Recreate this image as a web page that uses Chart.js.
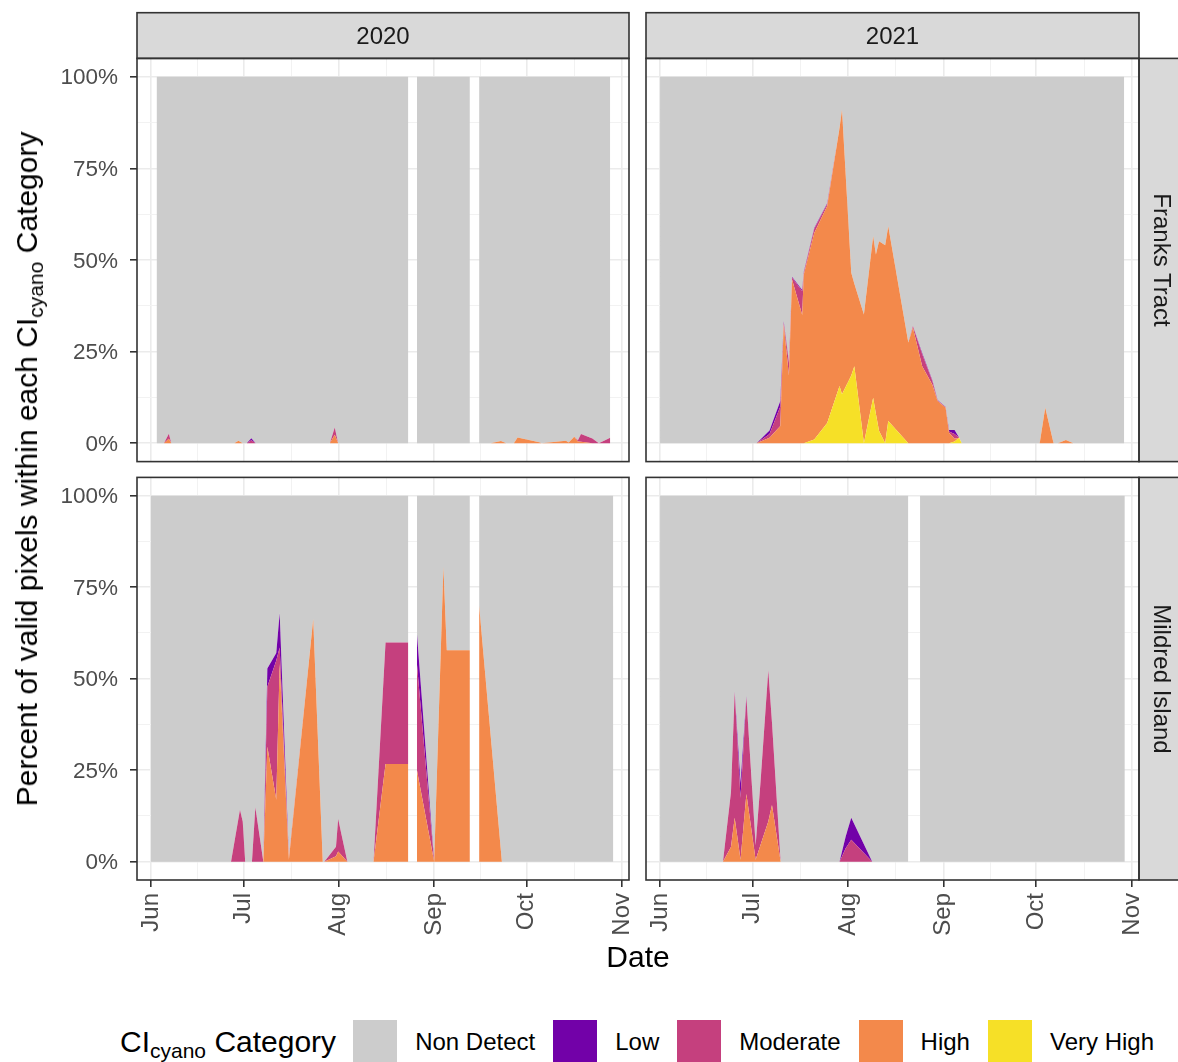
<!DOCTYPE html>
<html>
<head>
<meta charset="utf-8">
<title>CIcyano category share – Franks Tract and Mildred Island</title>
<script src="https://cdn.jsdelivr.net/npm/chart.js@4.4.1/dist/chart.umd.min.js"></script>
<style>
  html, body { margin: 0; padding: 0; background: #ffffff; }
  body {
    width: 1178px; height: 1062px; position: relative; overflow: hidden;
    font-family: 'Liberation Sans', Arial, sans-serif;
  }
  canvas.panel { position: absolute; }
  .strip-text {
    position: absolute; transform: translate(-50%, -50%);
    font-size: 24px; color: #1a1a1a; white-space: nowrap; line-height: 1;
  }
  .strip-text.vertical { writing-mode: vertical-rl; }
  .axis-title {
    position: absolute; white-space: nowrap; font-size: 30px; color: #000; line-height: 1;
  }
  .axis-title sub, .legend-title sub {
    font-size: 21px; vertical-align: -6px; line-height: 0;
  }
  #legend {
    position: absolute; left: 120px; top: 1020px; height: 44px;
    display: flex; align-items: center; white-space: nowrap;
  }
  .legend-title { font-size: 30px; color: #000; line-height: 1; margin-right: 17px; }
  .legend-key { width: 44px; height: 44px; flex: none; }
  .legend-label { font-size: 24px; color: #000; line-height: 1; margin: 0 18px 0 18px; }
</style>
</head>
<body>

<canvas class="panel" id="franks2020"></canvas>
<canvas class="panel" id="franks2021"></canvas>
<canvas class="panel" id="mildred2020"></canvas>
<canvas class="panel" id="mildred2021"></canvas>

<div class="strip-text" style="left:383px; top:35.5px;">2020</div>
<div class="strip-text" style="left:892.5px; top:35.5px;">2021</div>
<div class="strip-text vertical" style="left:1162px; top:260px;">Franks Tract</div>
<div class="strip-text vertical" style="left:1162px; top:679px;">Mildred Island</div>

<div class="axis-title" style="left:27px; top:469px; transform:translate(-50%,-50%) rotate(-90deg);">Percent of valid pixels within each CI<sub>cyano</sub> Category</div>
<div class="axis-title" style="left:638px; top:957px; transform:translate(-50%,-50%);">Date</div>

<div id="legend"></div>

<script>
// ---------------------------------------------------------------------------
// Axis breaks: x is days since 1 June of each year, y is percent of pixels
// ---------------------------------------------------------------------------
const monthStarts = [0, 30, 61, 92, 122, 153];
const monthLabels = ['Jun', 'Jul', 'Aug', 'Sep', 'Oct', 'Nov'];
const monthMids   = [15, 45.5, 76.5, 107, 137.5];
const pctBreaks   = [0, 25, 50, 75, 100];
const pctLabels   = ['0%', '25%', '50%', '75%', '100%'];
const pctMids     = [12.5, 37.5, 62.5, 87.5];

// Legend order and fill colours (plasma-style scale, grey for no detection)
const categories     = ['Non Detect', 'Low', 'Moderate', 'High', 'Very High'];
const categoryColors = ['#CCCCCC', '#7201A8', '#C5407E', '#F3894B', '#F6E027'];

// ---------------------------------------------------------------------------
// Percent of valid pixels per category on each image date.
// A null in a date list separates runs of imagery (no area drawn between runs).
// ---------------------------------------------------------------------------

// Franks Tract, 2020
const franks2020Day       = [1.8, 4.2, 5.8, 6.6, 27.1, 28.4, 29.8, 31.1, 32.6, 34, 58.1, 59.7, 60.8, 83.6, null,
                             86.4, 103.6, null,
                             106.6, 110.4, 113.7, 115.4, 117.9, 119.1, 126.1, 126.9, 134.8, 135.7, 137.5, 138.7, 139.7, 143.4, 145.5, 149.2];
const franks2020VeryHigh  = [0, 0, 0, 0, 0, 0, 0, 0, 0, 0, 0, 0, 0, 0, null,
                             0, 0, null,
                             0, 0, 0, 0, 0, 0, 0, 0, 0, 0, 0, 0, 0, 0, 0, 0];
const franks2020High      = [0, 0, 1.2, 0, 0, 0.7, 0, 0, 0, 0, 0, 2.3, 0, 0, null,
                             0, 0, null,
                             0, 0, 0.6, 0, 0, 1.6, 0.3, 0, 0.7, 0.2, 1.8, 0.5, 0.4, 0, 0, 0];
const franks2020Moderate  = [0, 0, 1.4, 0, 0, 0, 0, 0, 0.8, 0, 0, 2.0, 0, 0, null,
                             0, 0, null,
                             0, 0, 0, 0, 0, 0, 0, 0, 0, 0, 0, 0.3, 2.1, 1.3, 0, 1.5];
const franks2020Low       = [0, 0, 0, 0, 0, 0, 0, 0, 0.6, 0, 0, 0, 0, 0, null,
                             0, 0, null,
                             0, 0, 0, 0, 0, 0, 0, 0, 0, 0, 0, 0, 0, 0, 0, 0];
const franks2020NonDetect = [100, 100, 97.4, 100, 100, 99.3, 100, 100, 98.6, 100, 100, 95.7, 100, 100, null,
                             100, 100, null,
                             100, 100, 99.4, 100, 100, 98.4, 99.7, 100, 99.3, 99.8, 98.2, 99.2, 97.5, 98.7, 100, 98.5];

// Franks Tract, 2021
const franks2021Day       = [0, 31.3, 35.5, 39, 40.1, 41.8, 42.8, 46.1, 46.6, 50, 54.2, 58.2, 59, 62, 63, 66.1, 69.1, 70, 71, 73,
                             74, 80.5, 82, 85, 88.3, 90, 92.6, 93.7, 95.5, 97, 97.8, 123.1, 124.9, 127.6, 129, 131.6, 134, 150.5];
const franks2021VeryHigh  = [0, 0, 0, 0, 0, 0, 0, 0, 0, 1, 5.5, 15.6, 13.4, 18.5, 21, 0, 12.4, 8, 3.4, 0,
                             6.1, 0, 0, 0, 0, 0, 0, 0, 0.5, 1.5, 0, 0, 0, 0, 0, 0, 0, 0];
const franks2021High      = [0, 0, 1.5, 4.7, 32.4, 18.5, 44.7, 35, 46, 56.4, 59.2, 70.4, 77.6, 28, 22.5, 35.1, 44.1, 43.5, 51.7, 54,
                             53.1, 27.5, 31.5, 21, 16, 11.5, 9.7, 2.9, 0.7, 0, 0, 0, 9.7, 0, 0, 0.9, 0, 0];
const franks2021Moderate  = [0, 0, 1, 5.3, 0.6, 3.5, 0.5, 6.5, 0.5, 1.1, 0.6, 0, 0, 0, 0, 0, 0, 0, 0, 0,
                             0, 0, 0.5, 3.3, 1, 0.2, 0.1, 0.3, 1.3, 0, 0, 0, 0, 0, 0, 0, 0, 0];
const franks2021Low       = [0, 0, 1, 1.5, 0.3, 0.2, 0.2, 0.3, 0.2, 0.2, 0.2, 0, 0, 0, 0, 0, 0, 0, 0, 0,
                             0, 0, 0, 0.3, 0.2, 0.1, 0.1, 0.4, 1.1, 0, 0, 0, 0, 0, 0, 0, 0, 0];
const franks2021NonDetect = [100, 100, 96.5, 88.5, 66.7, 77.8, 54.6, 58.2, 53.3, 41.3, 34.5, 14, 9, 53.5, 56.5, 64.9, 43.5, 48.5, 44.9, 46,
                             40.8, 72.5, 68, 75.4, 82.8, 88.2, 90.1, 96.4, 96.4, 98.5, 100, 100, 90.3, 100, 100, 99.1, 100, 100];

// Mildred Island, 2020
const mildred2020Day       = [0, 26, 28.9, 29.8, 30.6, 32.8, 33.9, 36.5, 37.8, 40.7, 41.8, 44.8, 52.7, 55.8, 56.3, 60.1, 60.8, 63.8, 72.3, 76.2, 83.6, null,
                              86.4, 92.0, 95.0, 96.1, 103.6, null,
                              106.6, 114.0, 150.2];
const mildred2020VeryHigh  = [0, 0, 0, 0, 0, 0, 0, 0, 0, 0, 0, 0, 0, 0, 0, 0, 0, 0, 0, 0, 0, null,
                              0, 0, 0, 0, 0, null,
                              0, 0, 0];
const mildred2020High      = [0, 0, 0, 0, 0, 0, 0, 0, 31.4, 16.9, 54, 0.5, 66.3, 0, 0, 1.5, 2.8, 0, 0, 26.7, 26.7, null,
                              25, 0, 80.5, 57.8, 57.8, null,
                              70, 0, 0];
const mildred2020Moderate  = [0, 0, 14.2, 11, 0, 0, 14.9, 0, 16.4, 38.1, 4.5, 0.5, 0, 0, 0, 2.6, 8.9, 0, 0, 33.2, 33.2, null,
                              29, 0, 0, 0, 0, null,
                              0, 0, 0];
const mildred2020Low       = [0, 0, 0, 0, 0, 0, 0, 0, 5, 2, 9.4, 0, 0, 0, 0, 0, 0, 0, 0, 0, 0, null,
                              8.3, 0, 0, 0, 0, null,
                              0, 0, 0];
const mildred2020NonDetect = [100, 100, 85.8, 89, 100, 100, 85.1, 100, 47.2, 43, 32.1, 99, 33.7, 100, 100, 95.9, 88.3, 100, 100, 40.1, 40.1, null,
                              37.7, 100, 19.5, 42.2, 42.2, null,
                              30, 100, 100];

// Mildred Island, 2021
const mildred2021Day       = [0, 20.4, 23, 24.2, 26.1, 28, 31, 32.6, 35.1, 36.3, 39.1, 58.2, 60.2, 62, 68.8, 80.5, null,
                              84.3, 150.7];
const mildred2021VeryHigh  = [0, 0, 0, 0, 0, 0, 0, 0, 0, 0, 0, 0, 0, 0, 0, 0, null,
                              0, 0];
const mildred2021High      = [0, 0, 4, 12, 0.5, 18.5, 0.5, 4.6, 11, 15.5, 0, 0, 0, 0, 0, 0, null,
                              0, 0];
const mildred2021Moderate  = [0, 0, 15, 34.4, 17, 26.5, 4, 17.4, 41.3, 22.5, 0, 0, 3.7, 6, 0, 0, null,
                              0, 0];
const mildred2021Low       = [0, 0, 0, 0.1, 4, 0.2, 0, 0, 0, 0, 0, 0, 3.2, 6, 0, 0, null,
                              0, 0];
const mildred2021NonDetect = [100, 100, 81, 53.5, 78.5, 54.8, 95.5, 78, 47.7, 62, 100, 100, 93.1, 88, 100, 100, null,
                              100, 100];

// ---------------------------------------------------------------------------
// Chart construction
// ---------------------------------------------------------------------------
const FONT = "'Liberation Sans', Arial, sans-serif";
const X_MIN = -4.55, X_MAX = 155.3;   // ggplot-style 5% expansion around the season
const Y_MIN = -5,    Y_MAX = 105;
const STRIP = 45.7;

const colorOf = name => categoryColors[categories.indexOf(name)];

// Split a panel's records into runs wherever the date list holds a null
function splitRuns(days, layers) {
  const runs = [];
  let run = null;
  days.forEach((d, i) => {
    if (d === null) { run = null; return; }
    if (!run) { run = { days: [], values: layers.map(() => []) }; runs.push(run); }
    run.days.push(d);
    layers.forEach((layer, k) => run.values[k].push(layer.values[i]));
  });
  return runs;
}

// One stacked group of area datasets per run; Very High sits at the bottom
function buildDatasets(days, layers) {
  const datasets = [];
  splitRuns(days, layers).forEach((run, r) => {
    layers.forEach((layer, k) => {
      datasets.push({
        label: layer.name,
        data: run.days.map((d, j) => ({ x: d, y: run.values[k][j] })),
        stack: 'run' + r,
        fill: k === 0 ? 'origin' : '-1',
        backgroundColor: colorOf(layer.name),
        borderColor: colorOf(layer.name),
        borderWidth: 0,
        pointRadius: 0,
        pointHoverRadius: 0,
        tension: 0
      });
    });
  });
  return datasets;
}

// Panel border and facet strips
const panelFrame = {
  id: 'panelFrame',
  afterDraw(chart, args, opts) {
    const { ctx, chartArea: a } = chart;
    ctx.save();
    ctx.lineWidth = 1.6;
    ctx.strokeStyle = '#333333';
    ctx.fillStyle = '#D9D9D9';
    if (opts.topStrip) {
      ctx.fillRect(a.left, a.top - STRIP, a.right - a.left, STRIP);
      ctx.strokeRect(a.left, a.top - STRIP, a.right - a.left, STRIP);
    }
    if (opts.rightStrip) {
      ctx.fillRect(a.right, a.top, STRIP, a.bottom - a.top);
      ctx.strokeRect(a.right, a.top, STRIP, a.bottom - a.top);
    }
    ctx.strokeRect(a.left, a.top, a.right - a.left, a.bottom - a.top);
    ctx.restore();
  }
};

const isMajorX = v => monthStarts.includes(v);
const isMajorY = v => pctBreaks.includes(v);

function makePanel(spec) {
  const canvas = document.getElementById(spec.id);
  canvas.width = spec.width;
  canvas.height = spec.height;
  canvas.style.left = spec.left + 'px';
  canvas.style.top = spec.top + 'px';

  const layers = [
    { name: 'Very High',  values: spec.veryHigh },
    { name: 'High',       values: spec.high },
    { name: 'Moderate',   values: spec.moderate },
    { name: 'Low',        values: spec.low },
    { name: 'Non Detect', values: spec.nonDetect }
  ];

  return new Chart(canvas, {
    type: 'line',
    data: { datasets: buildDatasets(spec.days, layers) },
    options: {
      responsive: false,
      animation: false,
      devicePixelRatio: 1,
      events: [],
      layout: { padding: spec.padding },
      plugins: {
        legend: { display: false },
        tooltip: { enabled: false },
        panelFrame: { topStrip: spec.topStrip, rightStrip: spec.rightStrip }
      },
      scales: {
        x: {
          type: 'linear',
          min: X_MIN,
          max: X_MAX,
          afterBuildTicks: scale => {
            scale.ticks = monthStarts.concat(monthMids).sort((a, b) => a - b).map(v => ({ value: v }));
          },
          afterFit: scale => {
            scale.height = spec.xLabels ? 80 : 0;
            scale.paddingLeft = 0;
            scale.paddingRight = 0;
          },
          border: { display: false },
          grid: {
            color: c => (c.tick && isMajorX(c.tick.value)) ? '#EBEBEB' : '#F2F2F2',
            lineWidth: c => (c.tick && isMajorX(c.tick.value)) ? 1.6 : 1,
            drawTicks: spec.xLabels,
            tickLength: 7,
            tickWidth: 1.6,
            tickColor: c => (c.tick && isMajorX(c.tick.value)) ? '#333333' : 'rgba(0,0,0,0)'
          },
          ticks: {
            display: spec.xLabels,
            autoSkip: false,
            minRotation: 90,
            maxRotation: 90,
            padding: 6,
            color: '#4D4D4D',
            font: { family: FONT, size: 24 },
            callback: v => isMajorX(v) ? monthLabels[monthStarts.indexOf(v)] : ''
          }
        },
        y: {
          type: 'linear',
          stacked: true,
          min: Y_MIN,
          max: Y_MAX,
          afterBuildTicks: scale => {
            scale.ticks = pctBreaks.concat(pctMids).sort((a, b) => a - b).map(v => ({ value: v }));
          },
          afterFit: scale => {
            scale.width = spec.yLabels ? 97 : 0;
            scale.paddingTop = 0;
            scale.paddingBottom = 0;
          },
          border: { display: false },
          grid: {
            color: c => (c.tick && isMajorY(c.tick.value)) ? '#EBEBEB' : '#F2F2F2',
            lineWidth: c => (c.tick && isMajorY(c.tick.value)) ? 1.6 : 1,
            drawTicks: spec.yLabels,
            tickLength: 7,
            tickWidth: 1.6,
            tickColor: c => (c.tick && isMajorY(c.tick.value)) ? '#333333' : 'rgba(0,0,0,0)'
          },
          ticks: {
            display: spec.yLabels,
            autoSkip: false,
            padding: 12,
            labelOffset: 1.5,
            color: '#4D4D4D',
            font: { family: FONT, size: 22.5 },
            callback: v => isMajorY(v) ? pctLabels[pctBreaks.indexOf(v)] : ''
          }
        }
      }
    },
    plugins: [panelFrame]
  });
}

makePanel({
  id: 'franks2020', left: 40, top: 10, width: 604, height: 460,
  padding: { left: 0, top: 48.4, right: 15, bottom: 8.4 },
  xLabels: false, yLabels: true, topStrip: true, rightStrip: false,
  days: franks2020Day, veryHigh: franks2020VeryHigh, high: franks2020High,
  moderate: franks2020Moderate, low: franks2020Low, nonDetect: franks2020NonDetect
});
makePanel({
  id: 'franks2021', left: 644, top: 10, width: 534, height: 460,
  padding: { left: 2, top: 48.4, right: 39, bottom: 8.4 },
  xLabels: false, yLabels: false, topStrip: true, rightStrip: true,
  days: franks2021Day, veryHigh: franks2021VeryHigh, high: franks2021High,
  moderate: franks2021Moderate, low: franks2021Low, nonDetect: franks2021NonDetect
});
makePanel({
  id: 'mildred2020', left: 40, top: 470, width: 604, height: 490,
  padding: { left: 0, top: 7.4, right: 15, bottom: 0 },
  xLabels: true, yLabels: true, topStrip: false, rightStrip: false,
  days: mildred2020Day, veryHigh: mildred2020VeryHigh, high: mildred2020High,
  moderate: mildred2020Moderate, low: mildred2020Low, nonDetect: mildred2020NonDetect
});
makePanel({
  id: 'mildred2021', left: 644, top: 470, width: 534, height: 490,
  padding: { left: 2, top: 7.4, right: 39, bottom: 0 },
  xLabels: true, yLabels: false, topStrip: false, rightStrip: true,
  days: mildred2021Day, veryHigh: mildred2021VeryHigh, high: mildred2021High,
  moderate: mildred2021Moderate, low: mildred2021Low, nonDetect: mildred2021NonDetect
});

// Legend row
(function buildLegend() {
  const legend = document.getElementById('legend');
  const title = document.createElement('div');
  title.className = 'legend-title';
  title.innerHTML = 'CI<sub>cyano</sub> Category';
  legend.appendChild(title);
  categories.forEach((name, i) => {
    const key = document.createElement('div');
    key.className = 'legend-key';
    key.style.background = categoryColors[i];
    legend.appendChild(key);
    const label = document.createElement('div');
    label.className = 'legend-label';
    label.textContent = name;
    legend.appendChild(label);
  });
})();
</script>
</body>
</html>
